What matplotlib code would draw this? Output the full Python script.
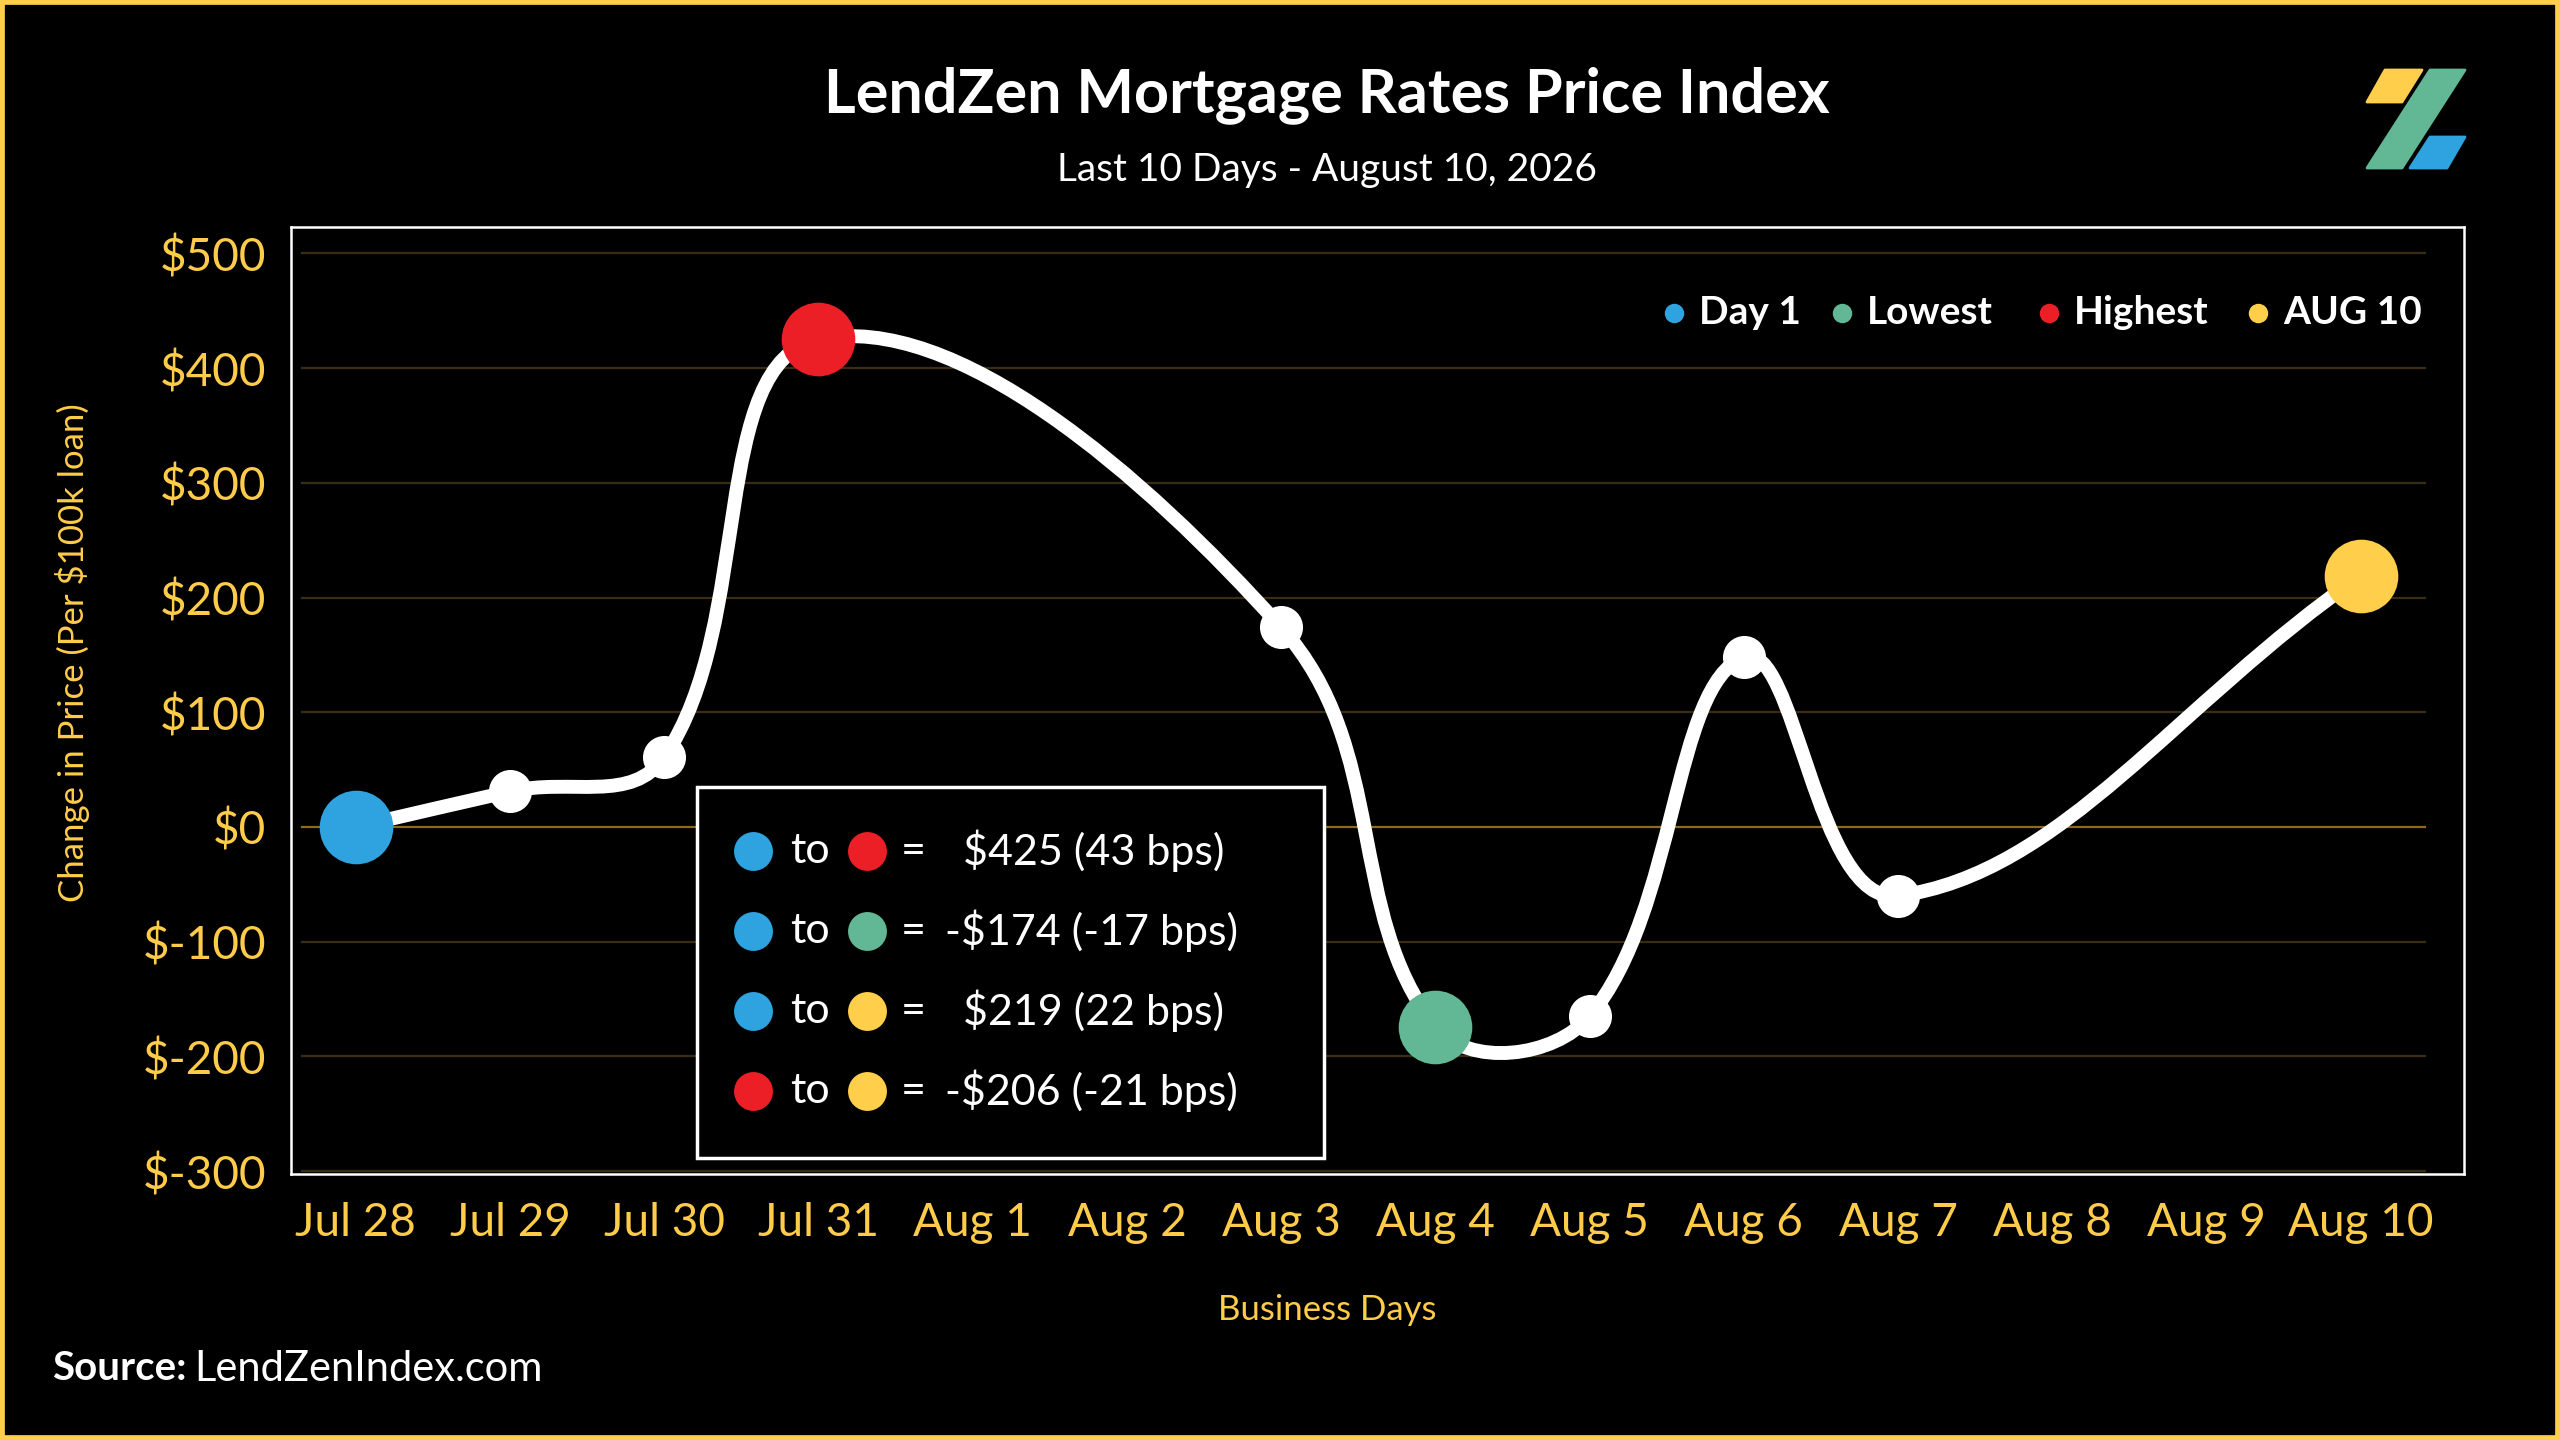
import numpy as np
import matplotlib
matplotlib.use("Agg")
import matplotlib.pyplot as plt
from matplotlib.path import Path
from matplotlib.patches import PathPatch, Rectangle, Polygon

# data
days = ["Jul 28", "Jul 29", "Jul 30", "Jul 31", "Aug 1", "Aug 2", "Aug 3",
        "Aug 4", "Aug 5", "Aug 6", "Aug 7", "Aug 8", "Aug 9", "Aug 10"]
point_days = ["Jul 28", "Jul 29", "Jul 30", "Jul 31", "Aug 3", "Aug 4",
              "Aug 5", "Aug 6", "Aug 7", "Aug 10"]
point_values = [0, 31, 61, 425, 174, -174, -165, 148, -60, 219]
y_ticks = [-300, -200, -100, 0, 100, 200, 300, 400, 500]

legend_labels = ["Day 1", "Lowest", "Highest", "AUG 10"]
summary_from = ["day1", "day1", "day1", "high"]
summary_to = ["high", "low", "last", "last"]
summary_text = ["$425 (43 bps)", "-$174 (-17 bps)", "$219 (22 bps)", "-$206 (-21 bps)"]

BLUE = "#2EA3DF"
GREEN = "#62B895"
RED = "#EC1F26"
YELLOW = "#FFCE4B"
GOLD = "#FFCC4A"
dot_color = {"day1": BLUE, "low": GREEN, "high": RED, "last": YELLOW}

W, H = 2560, 1440
plt.rcParams['font.family'] = ['Lato', 'DejaVu Sans']
REG = "normal"

fig = plt.figure(figsize=(W / 100, H / 100), dpi=100, facecolor="black")


def fx(px):
    return px / W


def fy(py):
    return 1 - py / H


ax = fig.add_axes([fx(291), fy(1174), fx(2464) - fx(291), fy(227) - fy(1174)])
ax.set_facecolor("black")
ax.set_xlim(-0.42, 13.67)
ax.set_ylim(-302.5, 523)

# grid lines
for t in y_ticks:
    c = "#8C6B1F" if t == 0 else "#3A2E12"
    ax.axhline(t, xmin=0.005, xmax=0.982, color=c, lw=1.6, zorder=1)

# smooth line (chart.js style bezier, tension 0.4) computed in pixel space
xs = np.array([days.index(d) for d in point_days], dtype=float)
ys = np.array(point_values, dtype=float)
sx, sy = 154.2, 1.147
px_, py_ = xs * sx, ys * sy
tension = 0.4
n = len(xs)
cp_prev = np.zeros((n, 2))
cp_next = np.zeros((n, 2))
for i in range(n):
    p0 = np.array([px_[max(i - 1, 0)], py_[max(i - 1, 0)]])
    p1 = np.array([px_[i], py_[i]])
    p2 = np.array([px_[min(i + 1, n - 1)], py_[min(i + 1, n - 1)]])
    d01 = np.hypot(*(p1 - p0))
    d12 = np.hypot(*(p2 - p1))
    s = d01 + d12
    fa = tension * d01 / s if s else 0
    fb = tension * d12 / s if s else 0
    cp_prev[i] = p1 - fa * (p2 - p0)
    cp_next[i] = p1 + fb * (p2 - p0)

verts = [(xs[0], ys[0])]
codes = [Path.MOVETO]
for i in range(n - 1):
    verts += [(cp_next[i][0] / sx, cp_next[i][1] / sy),
              (cp_prev[i + 1][0] / sx, cp_prev[i + 1][1] / sy),
              (xs[i + 1], ys[i + 1])]
    codes += [Path.CURVE4] * 3
ax.add_patch(PathPatch(Path(verts, codes), facecolor="none", edgecolor="white",
                       lw=10, capstyle="round", joinstyle="round", zorder=3))

# markers
i_low = int(np.argmin(ys))
i_high = int(np.argmax(ys))
special = {0: BLUE, i_low: GREEN, i_high: RED, n - 1: YELLOW}
for i in range(n):
    if i in special:
        ax.plot(xs[i], ys[i], "o", ms=53, color=special[i], mec="none", zorder=5)
    else:
        ax.plot(xs[i], ys[i], "o", ms=31, color="white", mec="none", zorder=4)

# axes styling
for sp in ax.spines.values():
    sp.set_color("white")
    sp.set_linewidth(1.8)
ax.set_xticks(range(len(days)))
ax.set_xticklabels(days, fontweight=REG)
ax.set_yticks(y_ticks)
ax.set_yticklabels([f"${v}" for v in y_ticks], fontweight=REG)
ax.tick_params(axis="both", length=0, colors=GOLD, labelsize=33)
ax.tick_params(axis="y", pad=18)
ax.tick_params(axis="x", pad=20)

# titles and labels
fig.text(fx(1327), fy(95), "LendZen Mortgage Rates Price Index", color="white",
         fontsize=44, fontweight="bold", ha="center", va="center")
fig.text(fx(1327), fy(170), "Last 10 Days - August 10, 2026", color="white",
         fontsize=28, fontweight=REG, ha="center", va="center")
fig.text(fx(73), fy(653), "Change in Price (Per $100k loan)", color=GOLD,
         fontsize=25, fontweight=REG, rotation=90, ha="center", va="center")
fig.text(fx(1327), fy(1310), "Business Days", color=GOLD, fontsize=25,
         fontweight=REG, ha="center", va="center")
t = fig.text(fx(52), fy(1369), "Source:", color="white", fontsize=29,
             fontweight="bold", ha="left", va="center")
fig.canvas.draw()
bb = t.get_window_extent()
fig.text(bb.x1 / W + fx(8), fy(1369), "LendZenIndex.com", color="white",
         fontsize=30, fontweight=REG, ha="left", va="center")

# top-right legend
leg_dot_x = [1674, 1842, 2049, 2258]
leg_colors = [BLUE, GREEN, RED, YELLOW]
for x, c, lab in zip(leg_dot_x, leg_colors, legend_labels):
    fig.add_artist(plt.Line2D([fx(x)], [fy(313)], marker="o", ms=14, color=c,
                              mec="none", transform=fig.transFigure))
    fig.text(fx(x + 25), fy(313), lab, color="white", fontsize=28,
             fontweight="bold", ha="left", va="center")

# summary box
box = Rectangle((fx(697), fy(1158)), fx(1324) - fx(697), fy(787) - fy(1158),
                transform=fig.transFigure, facecolor="black", edgecolor="white",
                lw=2.5, zorder=6)
fig.add_artist(box)
row_y = [851, 931, 1011, 1091]
for ry, a, b, txt in zip(row_y, summary_from, summary_to, summary_text):
    for x, key in ((753, a), (867, b)):
        m = plt.Line2D([fx(x)], [fy(ry)], marker="o", ms=28, color=dot_color[key],
                       mec="none", transform=fig.transFigure, zorder=7)
        fig.add_artist(m)
    fig.text(fx(790), fy(ry), "to", color="white", fontsize=31, fontweight=REG,
             ha="left", va="center", zorder=7)
    fig.text(fx(913), fy(ry), "=", color="white", fontsize=31, fontweight=REG,
             ha="center", va="center", zorder=7)
    vx = 945 if txt.startswith("-") else 963
    fig.text(fx(vx), fy(ry), txt, color="white", fontsize=31, fontweight=REG,
             ha="left", va="center", zorder=7)

# logo
logo = [
    ([(2385, 70), (2422, 70), (2402, 102), (2367, 102)], YELLOW),
    ([(2430, 70), (2465, 70), (2402, 168), (2367, 168)], GREEN),
    ([(2430, 137), (2465, 137), (2447, 168), (2410, 168)], BLUE),
]
for pts, c in logo:
    fig.add_artist(Polygon([(fx(x), fy(y)) for x, y in pts], closed=True,
                           transform=fig.transFigure, facecolor=c, edgecolor=c,
                           lw=2, joinstyle="round"))

# gold frame
fig.add_artist(Rectangle((0, 0), 1, 1, transform=fig.transFigure, fill=False,
                         edgecolor=YELLOW, lw=7, zorder=10))

fig.savefig("out.png", dpi=100, facecolor="black")
